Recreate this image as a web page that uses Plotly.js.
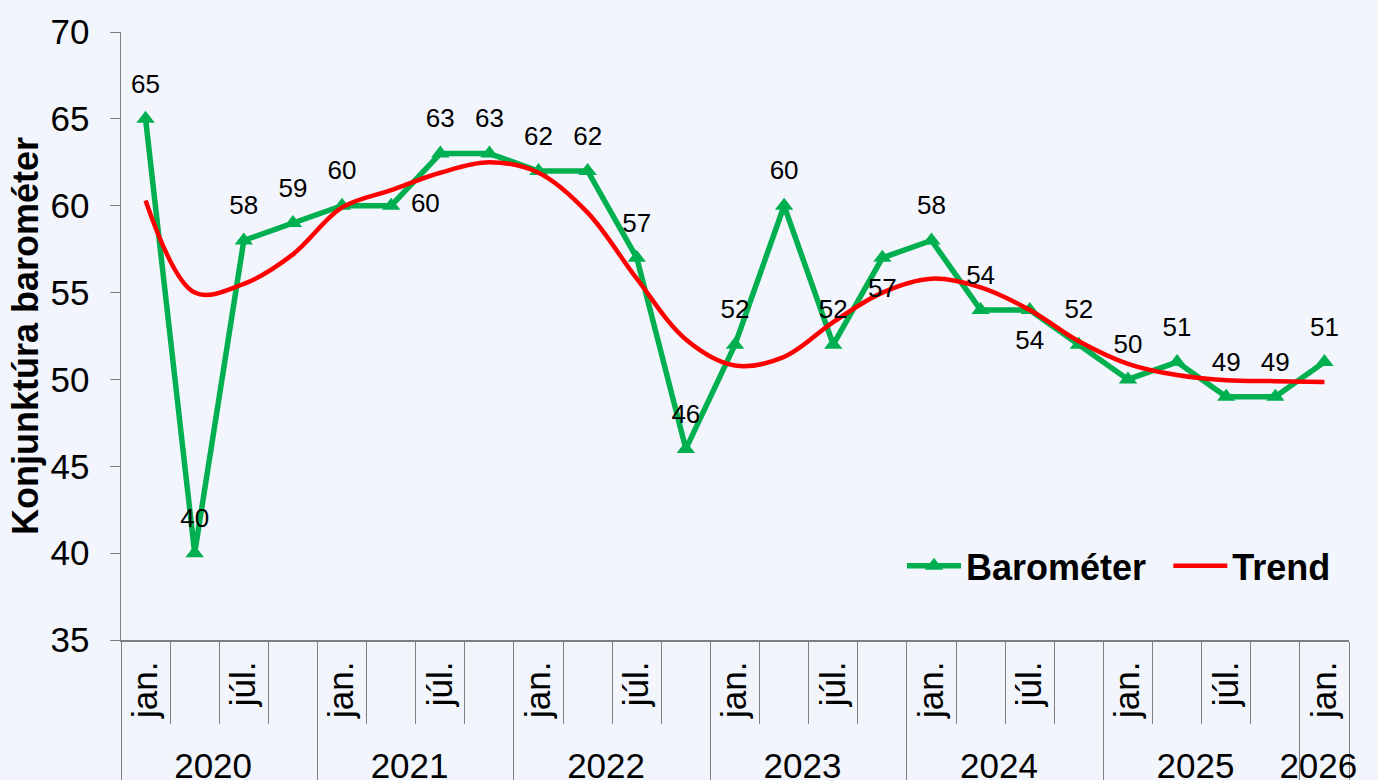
<!DOCTYPE html>
<html>
<head>
<meta charset="utf-8">
<script src="https://cdn.plot.ly/plotly-3.0.1.min.js"></script>
<style>html,body{margin:0;padding:0;background:#F2F5FC;}#chart{width:1378px;height:780px;}</style>
</head>
<body>
<div id="chart"></div>
<script>
const years = ['2020','2020','2020','2020','2021','2021','2021','2021','2022','2022','2022','2022','2023','2023','2023','2023','2024','2024','2024','2024','2025','2025','2025','2025','2026'];
const months = ['jan.',' ','júl.','  ','jan.',' ','júl.','  ','jan.',' ','júl.','  ','jan.',' ','júl.','  ','jan.',' ','júl.','  ','jan.',' ','júl.','  ','jan.'];
const barometer = [65,40,58,59,60,60,63,63,62,62,57,46,52,60,52,57,58,54,54,52,50,51,49,49,51];
const trend = [60.3,55.0,55.5,57.2,59.9,60.9,61.9,62.5,61.9,59.6,55.8,52.3,50.8,51.3,53.3,55.0,55.8,55.3,54.0,52.2,50.9,50.25,49.95,49.9,49.85];
const labelPos = ['top center','top center','top center','top center','top center','middle right','top center','top center','top center','top center','top center','top center','top center','top center','top center','bottom center','top center','top center','bottom center','top center','top center','top center','top center','top center','top center'];
const seriesNames = ['Barométer\u00a0\u2009', 'Trend'];

const FONT = 'Liberation Sans, Arial, sans-serif';
const BG = '#F2F5FC';

const traces = [
  {
    type: 'scatter',
    mode: 'lines+markers',
    name: seriesNames[0],
    x: [years, months],
    y: barometer,
    line: {color: '#00B050', width: 5.5},
    marker: {symbol: 'triangle-up', size: 16, color: '#00B050'},
    cliponaxis: false
  },
  {
    type: 'scatter',
    mode: 'lines',
    name: seriesNames[1],
    x: [years, months],
    y: trend,
    line: {color: '#FF0000', width: 4.5, shape: 'spline', smoothing: 1},
    cliponaxis: false
  },
  {
    type: 'scatter',
    mode: 'markers+text',
    name: 'labels',
    showlegend: false,
    hoverinfo: 'skip',
    x: [years, months],
    y: barometer,
    text: barometer.map(String),
    textposition: labelPos,
    textfont: {family: FONT, size: 26, color: '#000'},
    marker: {size: 30, color: 'rgba(0,0,0,0)'},
    cliponaxis: false
  }
];

const layout = {
  width: 1378, height: 780,
  paper_bgcolor: BG, plot_bgcolor: BG,
  margin: {l: 121, r: 29, t: 32, b: 140},
  font: {family: FONT, color: '#000'},
  showlegend: true,
  legend: {orientation: 'h', x: 0.636, y: 0.122, xanchor: 'left', yanchor: 'middle',
           font: {family: FONT, size: 36, color: '#000', weight: 'bold'}, bgcolor: 'rgba(0,0,0,0)',
           itemwidth: 54},
  xaxis: {
    type: 'multicategory',
    range: [-0.5, 24.5],
    tickangle: -90,
    ticks: 'outside', ticklen: 82, tickcolor: '#808080', tickwidth: 1,
    showline: true, linecolor: '#808080', linewidth: 1.5,
    showgrid: false, zeroline: false,
    showdividers: true, dividercolor: '#808080', dividerwidth: 1,
    tickfont: {family: FONT, size: 35, color: '#000'},
    ticklabelstandoff: 6
  },
  yaxis: {
    range: [35, 70], dtick: 5, tick0: 35,
    ticks: 'outside', ticklen: 10, tickcolor: '#808080',
    showline: true, linecolor: '#808080', linewidth: 1.5,
    showgrid: false, zeroline: false,
    tickfont: {family: FONT, size: 35, color: '#000'},
    ticklabelstandoff: 13,
    title: {text: 'Konjunktúra barométer', font: {family: FONT, size: 36, color: '#000', weight: 'bold'}, standoff: 1}
  }
};

Plotly.newPlot('chart', traces, layout, {displayModeBar: false, staticPlot: true});
</script>
</body>
</html>
